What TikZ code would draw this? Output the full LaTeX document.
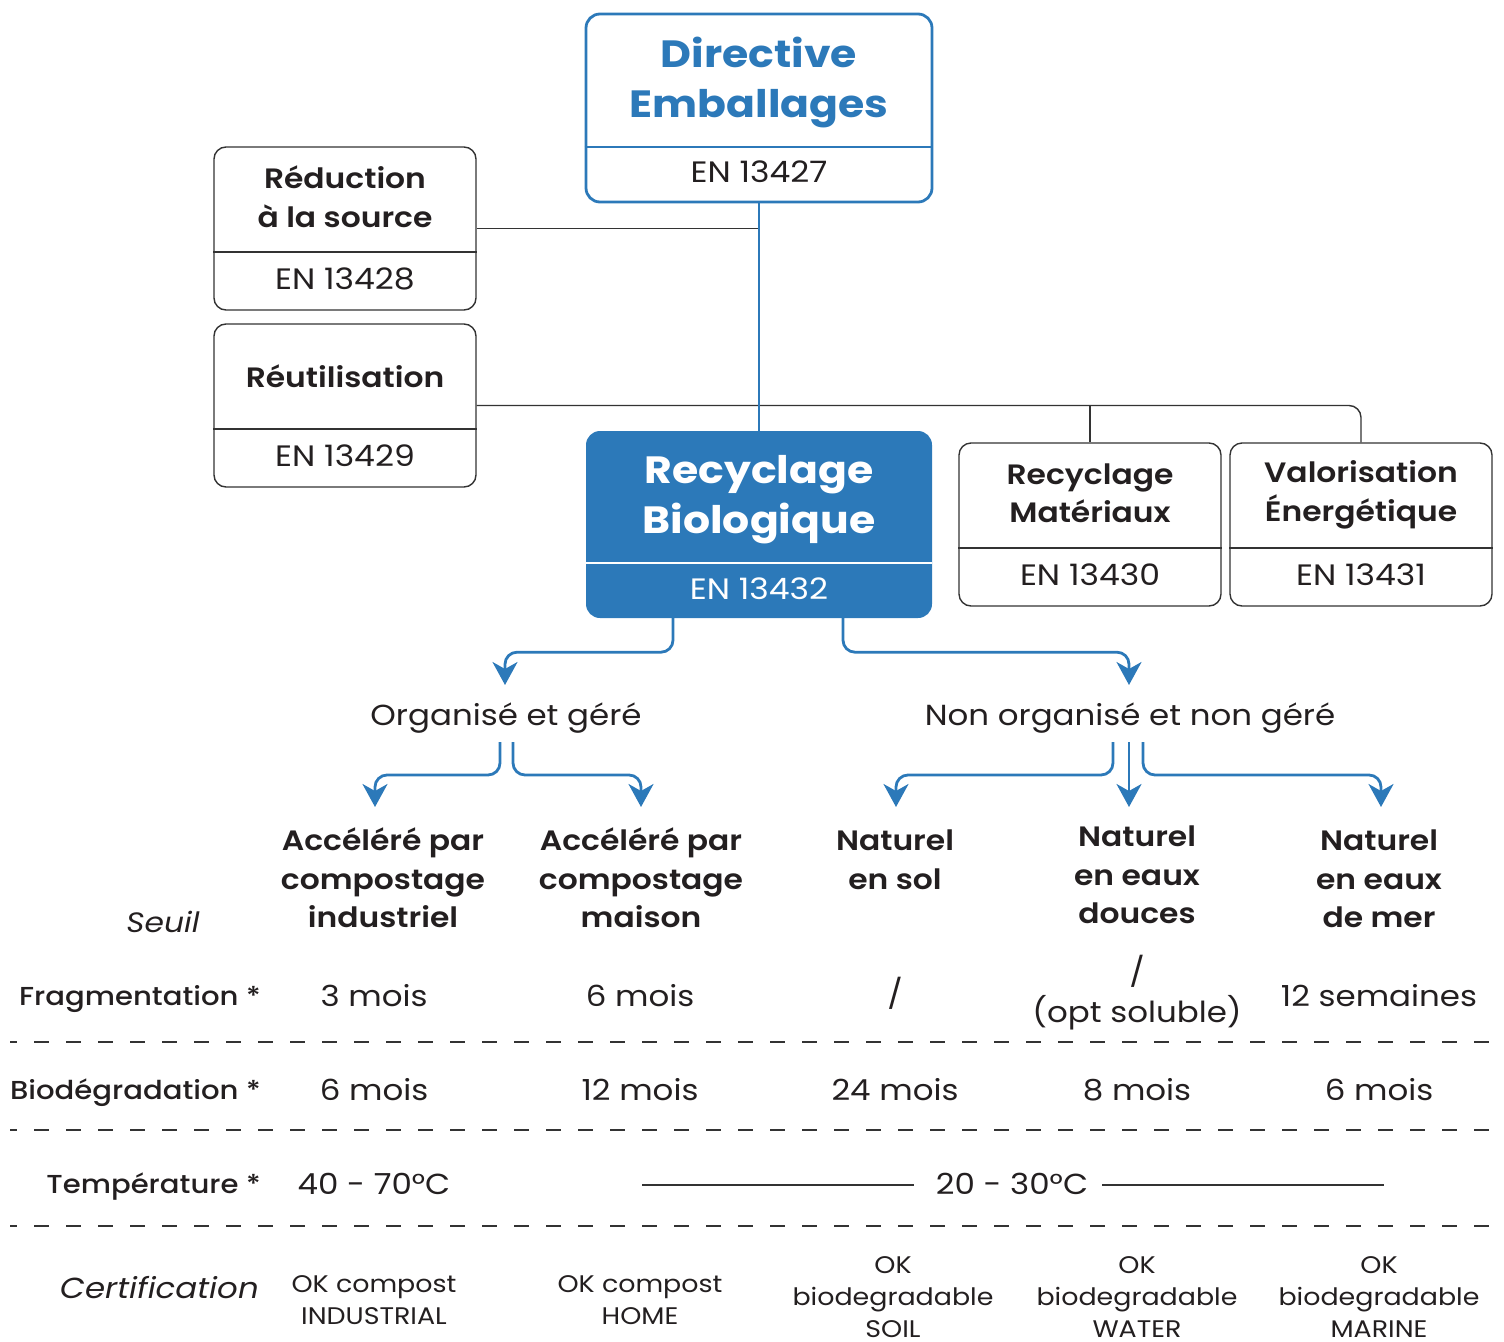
\documentclass[tikz,border=0pt]{standalone}
\usepackage{fontspec}
\setmainfont{Poppins}[FakeStretch=1.12]
\newfontfamily\popsemi{Poppins SemiBold}[FakeStretch=1.12]
\newfontfamily\popmed{Poppins Medium}[FakeStretch=1.12]
\usetikzlibrary{arrows.meta,calc}
\definecolor{mblue}{HTML}{2C79B9}
\definecolor{mtext}{HTML}{231F20}
\definecolor{mline}{HTML}{333333}
\newcommand\myTitle{\fontsize{38}{50}\selectfont\bfseries}
\newcommand\myBold{\fontsize{28}{38.5}\selectfont\popsemi}
\newcommand\myEN{\fontsize{29.5}{36}\selectfont}
\newcommand\myReg{\fontsize{29}{40}\selectfont}
\newcommand\myLab{\fontsize{26}{34}\selectfont\popmed}
\newcommand\myIt{\fontsize{28}{34}\selectfont\itshape}
\newcommand\myCert{\fontsize{24}{32}\selectfont}
\begin{document}
\begin{tikzpicture}[x=1pt,y=-1pt,
  every node/.style={text=mtext, inner sep=0pt, align=center},
  bluebox/.style={draw=mblue, line width=2.8pt, rounded corners=14pt, minimum width=346pt, minimum height=188pt},
  fillbox/.style={fill=mblue, rounded corners=14pt, minimum width=346pt, minimum height=187pt},
  blackbox/.style={draw=mline, line width=1.4pt, rounded corners=12pt, minimum width=262pt, minimum height=163pt},
  blackline/.style={draw=mline, line width=1.4pt},
  blueline/.style={draw=mblue, line width=2.8pt},
  bluearrow/.style={draw=mblue, line width=2.8pt, rounded corners=12pt, -{Stealth[length=23pt,width=25pt,inset=7pt]}},
  dashline/.style={draw=mline, line width=1.4pt, dash pattern=on 15pt off 17pt, dash phase=8pt},
  thinline/.style={draw=mline, line width=1.2pt}
]
\useasboundingbox (0,0) rectangle (1504,1341);

% boxes
\node[bluebox] (dir) at (759,108) {};
\node[fillbox] (rb) at (759,524.5) {};
\node[blackbox] (red) at (345,228.5) {};
\node[blackbox] (reu) at (345,405.5) {};
\node[blackbox] (mat) at (1090,524.5) {};
\node[blackbox] (val) at (1361,524.5) {};

% dividers
\draw[blueline] (dir.west |- 0,147) -- (dir.east |- 0,147);
\draw[white, line width=2.8pt] (rb.west |- 0,563) -- (rb.east |- 0,563);
\draw[blackline] (red.west |- 0,252) -- (red.east |- 0,252);
\draw[blackline] (reu.west |- 0,429) -- (reu.east |- 0,429);
\draw[blackline] (mat.west |- 0,548) -- (mat.east |- 0,548);
\draw[blackline] (val.west |- 0,548) -- (val.east |- 0,548);

% box texts
\node[font=\myTitle, text=mblue] (dirt) at (759,83) {Directive\\Emballages};
\node[font=\myEN] (dirn) at (759,172) {EN 13427};
\node[font=\myTitle, text=white] (rbt) at (759,500) {Recyclage\\Biologique};
\node[font=\myEN, text=white] (rbn) at (759,589) {EN 13432};
\node[font=\myBold] (redt) at (345,196.5) {Réduction\\à la source};
\node[font=\myEN] (redn) at (345,279) {EN 13428};
\node[font=\myBold] (reut) at (345,376.5) {Réutilisation};
\node[font=\myEN] (reun) at (345,456) {EN 13429};
\node[font=\myBold] (matt) at (1090,493.5) {Recyclage\\Matériaux};
\node[font=\myEN] (matn) at (1090,575) {EN 13430};
\node[font=\myBold] (valt) at (1361,495) {Valorisation\\Énergétique};
\node[font=\myEN] (valn) at (1361,575) {EN 13431};

% black connectors
\draw[blackline] (red.east) -- (red.east -| dir.south);
\draw[blackline, rounded corners=12pt] (reu.east) -| (val.north);
\draw[blackline] (reu.east -| mat.north) -- (mat.north);
% blue trunk
\draw[blueline] (dir.south) -- (rb.north);

% branch labels
\node[font=\myReg] (org) at (506,718) {Organisé et géré};
\node[font=\myReg] (norg) at (1130,718) {Non organisé et non géré};

\coordinate (tipL) at (505,685);
\coordinate (tipR) at (1129,685);
\draw[bluearrow] ([xshift=-86pt]rb.south) -- ++(0,34) -| (tipL);
\draw[bluearrow] ([xshift=84pt]rb.south) -- ++(0,34) -| (tipR);

% sub arrows
\coordinate (s1) at (500,742);
\coordinate (s2) at (513,742);
\coordinate (s3) at (1113,742);
\coordinate (s4) at (1129,742);
\coordinate (s5) at (1143,742);
\coordinate (t1) at (375,807);
\coordinate (t2) at (641,807);
\coordinate (t3) at (896,807);
\coordinate (t4) at (1129,807);
\coordinate (t5) at (1381,807);
\draw[bluearrow] (s1) -- ++(0,33) -| (t1);
\draw[bluearrow] (s2) -- ++(0,33) -| (t2);
\draw[bluearrow] (s3) -- ++(0,33) -| (t3);
\draw[bluearrow] (s4) -- (t4);
\draw[bluearrow] (s5) -- ++(0,33) -| (t5);

% column headers
\node[font=\myBold] (c1) at (383,878) {Accéléré par\\compostage\\industriel};
\node[font=\myBold] (c2) at (641,878) {Accéléré par\\compostage\\maison};
\node[font=\myBold] (c3) at (895,860) {Naturel\\en sol};
\node[font=\myBold] (c4) at (1137,875) {Naturel\\en eaux\\douces};
\node[font=\myBold] (c5) at (1379,879) {Naturel\\en eaux\\de mer};
\node[font=\myIt] (seuil) at (163,922) {Seuil};

% row labels
\node[font=\myLab, anchor=east] (lfrag) at (261,999) {Fragmentation *};
\node[font=\myLab, anchor=east] (lbio) at (261,1093) {Biodégradation *};
\node[font=\myLab, anchor=east] (ltemp) at (261,1187) {Température *};
\node[font=\myIt\fontsize{29}{34}\selectfont, anchor=east] (lcert) at (259,1288) {Certification};

% fragmentation row
\node[font=\myReg] (f1) at (374,996) {3 mois};
\node[font=\myReg] (f2) at (640,996) {6 mois};
\node[font=\myReg] (f3) at (895,993) {/};
\node[font=\myReg] (f4) at (1137,993) {/\\(opt soluble)};
\node[font=\myReg] (f5) at (1379,996) {12 semaines};

% biodegradation row
\node[font=\myReg] (b1) at (374,1090) {6 mois};
\node[font=\myReg] (b2) at (640,1090) {12 mois};
\node[font=\myReg] (b3) at (895,1090) {24 mois};
\node[font=\myReg] (b4) at (1137,1090) {8 mois};
\node[font=\myReg] (b5) at (1379,1090) {6 mois};

% temperature row
\node[font=\myReg] (tp1) at (374,1184) {40 - 70°C};
\node[font=\myReg] (tp2) at (1012,1184) {20 - 30°C};
\coordinate (la) at (642,1185);
\coordinate (lb) at (914,1185);
\coordinate (lc) at (1102,1185);
\coordinate (ld) at (1384,1185);
\draw[thinline] (la) -- (lb);
\draw[thinline] (lc) -- (ld);

% certification row
\node[font=\myCert] (k1) at (374,1300) {OK compost\\INDUSTRIAL};
\node[font=\myCert] (k2) at (640,1300) {OK compost\\HOME};
\node[font=\myCert] (k3) at (893,1297) {OK\\biodegradable\\SOIL};
\node[font=\myCert] (k4) at (1137,1297) {OK\\biodegradable\\WATER};
\node[font=\myCert] (k5) at (1379,1297) {OK\\biodegradable\\MARINE};

% dashed separators
\draw[dashline] (10,1042) -- (1504,1042);
\draw[dashline] (10,1130) -- (1504,1130);
\draw[dashline] (10,1226) -- (1504,1226);
\end{tikzpicture}
\end{document}
